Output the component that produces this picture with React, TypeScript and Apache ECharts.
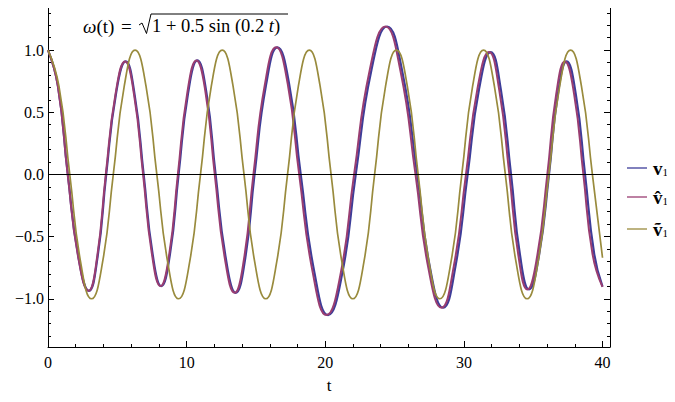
import React, { useEffect, useRef } from 'react';
import * as echarts from 'echarts';

const X_MIN = 0;
const X_MAX = 40.54;
const Y_MIN = -1.388;
const Y_MAX = 1.395;
const X_INTERVAL = 10;
const yMajorTicks = [-1, -0.5, 0, 0.5, 1];
const yMinorTicks = [-1.3, -1.2, -1.1, -0.9, -0.8, -0.7, -0.6, -0.4, -0.3, -0.2, -0.1, 0.1, 0.2, 0.3, 0.4, 0.6, 0.7, 0.8, 0.9, 1.1, 1.2, 1.3];

const seriesNames = ['v\u2081', 'v\u0302\u2081', '\u1E7D\u2081'];
const legendMain = ['v', 'v\u0302', '\u1E7D'];
const seriesColors = ['#3d3d99', '#993d71', '#998b3d'];

const v1: [number, number][] = [
  [0, 1.0], [0.72, 0.71], [1.43, 0], [2.19, -0.66], [2.95, -0.936], [3.58, -0.66], [4.2, 0],
  [4.9, 0.645], [5.6, 0.909], [6.25, 0.64], [6.9, 0], [7.54, -0.635], [8.17, -0.898], [8.8, -0.64],
  [9.42, 0], [10.1, 0.65], [10.77, 0.917], [11.43, 0.655], [12.09, 0], [12.82, -0.67], [13.54, -0.952],
  [14.22, -0.68], [14.9, 0], [15.73, 0.72], [16.55, 1.022], [17.39, 0.73], [18.23, 0], [19.22, -0.79],
  [20.2, -1.131], [21.2, -0.81], [22.2, 0], [23.33, 0.84], [24.46, 1.19], [25.55, 0.83], [26.63, 0],
  [27.57, -0.76], [28.5, -1.072], [29.39, -0.74], [30.27, 0], [31.1, 0.69], [31.93, 0.984], [32.67, 0.68],
  [33.4, 0], [34.05, -0.65], [34.7, -0.925], [35.42, -0.65], [36.14, 0], [36.78, 0.645], [37.41, 0.909],
  [38.08, 0.64], [38.74, 0], [39.4, -0.64], [40, -0.903],
];

const v1Hat: [number, number][] = [
  [0, 1.0], [0.71, 0.71], [1.42, 0], [2.17, -0.66], [2.93, -0.936], [3.55, -0.66], [4.17, 0],
  [4.87, 0.645], [5.56, 0.909], [6.21, 0.64], [6.86, 0], [7.49, -0.635], [8.12, -0.898], [8.75, -0.64],
  [9.37, 0], [10.04, 0.65], [10.71, 0.917], [11.37, 0.655], [12.03, 0], [12.75, -0.67], [13.47, -0.952],
  [14.14, -0.68], [14.82, 0], [15.64, 0.72], [16.46, 1.022], [17.29, 0.73], [18.12, 0], [19.1, -0.79],
  [20.09, -1.131], [21.09, -0.81], [22.08, 0], [23.21, 0.84], [24.34, 1.19], [25.43, 0.83], [26.51, 0],
  [27.45, -0.76], [28.38, -1.072], [29.27, -0.74], [30.15, 0], [30.98, 0.69], [31.81, 0.984], [32.55, 0.68],
  [33.28, 0], [33.93, -0.65], [34.58, -0.925], [35.3, -0.65], [36.02, 0], [36.66, 0.645], [37.29, 0.909],
  [37.96, 0.64], [38.62, 0], [39.28, -0.64], [40, -0.905],
];

const v1Tilde: [number, number][] = [
  [0, 1], [0.79, 0.71], [1.57, 0], [2.36, -0.71], [3.14, -1], [3.93, -0.71], [4.71, 0], [5.5, 0.71],
  [6.28, 1], [7.07, 0.71], [7.85, 0], [8.64, -0.71], [9.42, -1], [10.21, -0.71], [11.0, 0], [11.78, 0.71],
  [12.57, 1], [13.35, 0.71], [14.14, 0], [14.92, -0.71], [15.71, -1], [16.49, -0.71], [17.28, 0], [18.06, 0.71],
  [18.85, 1], [19.63, 0.71], [20.42, 0], [21.21, -0.71], [21.99, -1], [22.78, -0.71], [23.56, 0], [24.35, 0.71],
  [25.13, 1], [25.92, 0.71], [26.7, 0], [27.49, -0.71], [28.27, -1], [29.06, -0.71], [29.85, 0], [30.63, 0.71],
  [31.42, 1], [32.2, 0.71], [32.99, 0], [33.77, -0.71], [34.56, -1], [35.34, -0.71], [36.13, 0], [36.91, 0.71],
  [37.7, 1], [38.48, 0.71], [39.27, 0], [40, -0.67],
];

const SERIF = 'Liberation Serif';

function fmtY(v: number): string {
  const s = Math.abs(v).toFixed(1);
  return v < 0 ? '\u2212' + s : s;
}

export default function App() {
  const ref = useRef<HTMLDivElement>(null);
  useEffect(() => {
    if (!ref.current) return;
    const chart = echarts.init(ref.current, undefined, { renderer: 'svg' });
    const baseX = {
      type: 'value', min: X_MIN, max: X_MAX, interval: X_INTERVAL,
      splitLine: { show: false },
      axisLine: { show: true, onZero: false, lineStyle: { color: '#000', width: 1 } },
      axisTick: { show: true, inside: true, length: 6, lineStyle: { color: '#000' } },
      minorTick: { show: true, splitNumber: 5, length: 3, lineStyle: { color: '#000' } },
    };
    const baseY = {
      type: 'value', min: Y_MIN, max: Y_MAX,
      splitLine: { show: false },
    };
    const data = [v1, v1Hat, v1Tilde];
    const widths = [2.2, 2, 1.7];

    // legend drawn as graphic rows
    const rowY = [168, 197, 229];
    const legendItems: any[] = [];
    seriesNames.forEach((name, i) => {
      const y = rowY[i];
      legendItems.push({
        type: 'line', shape: { x1: 627, y1: y, x2: 647, y2: y },
        style: { stroke: seriesColors[i], lineWidth: 2, opacity: 0.65 },
      });
      legendItems.push({
        type: 'text', x: 653, y: y,
        style: { text: legendMain[i], fontFamily: SERIF, fontSize: 19, fontWeight: 'bold', fill: '#000', verticalAlign: 'middle', align: 'left' },
      });
      legendItems.push({
        type: 'text', x: 662.5, y: y + 4,
        style: { text: '1', fontFamily: SERIF, fontSize: 11, fill: '#000', verticalAlign: 'middle', align: 'left' },
      });
    });

    chart.setOption({
      animation: false,
      backgroundColor: '#fff',
      textStyle: { fontFamily: SERIF },
      grid: { left: 48, right: 65, top: 1, bottom: 55, containLabel: false },
      xAxis: [
        {
          ...baseX, position: 'bottom',
          axisLabel: { show: true, color: '#000', fontFamily: SERIF, fontSize: 16, margin: 7 },
          name: 't', nameLocation: 'middle', nameGap: 30,
          nameTextStyle: { color: '#000', fontFamily: SERIF, fontSize: 17 },
        },
        { ...baseX, position: 'top', axisLabel: { show: false } },
      ],
      yAxis: [
        {
          ...baseY, position: 'left',
          axisLine: { show: true, onZero: false, lineStyle: { color: '#000', width: 1 } },
          axisTick: { show: true, inside: true, length: 6, customValues: yMajorTicks, lineStyle: { color: '#000' } },
          axisLabel: { show: true, customValues: yMajorTicks, formatter: fmtY, color: '#000', fontFamily: SERIF, fontSize: 16, margin: 4 },
        },
        {
          ...baseY, position: 'left',
          axisLine: { show: false, onZero: false },
          axisTick: { show: true, inside: true, length: 3, customValues: yMinorTicks, lineStyle: { color: '#000' } },
          axisLabel: { show: false },
        },
        {
          ...baseY, position: 'right',
          axisLine: { show: true, onZero: false, lineStyle: { color: '#000', width: 1 } },
          axisTick: { show: true, inside: true, length: 6, customValues: yMajorTicks, lineStyle: { color: '#000' } },
          axisLabel: { show: false },
        },
        {
          ...baseY, position: 'right',
          axisLine: { show: false, onZero: false },
          axisTick: { show: true, inside: true, length: 3, customValues: yMinorTicks, lineStyle: { color: '#000' } },
          axisLabel: { show: false },
        },
      ],
      graphic: [
        {
          type: 'text', x: 83, y: 26,
          style: {
            text: '{i|\u03C9}(t)', fontFamily: SERIF, fontSize: 19, fill: '#000',
            verticalAlign: 'middle', align: 'left',
            rich: { i: { fontFamily: SERIF, fontSize: 19, fontStyle: 'italic' } },
          },
        },
        {
          type: 'text', x: 121, y: 26,
          style: { text: '=', fontFamily: SERIF, fontSize: 19, fill: '#000', verticalAlign: 'middle', align: 'left' },
        },
        {
          type: 'polyline',
          shape: { points: [[139, 25], [142, 23], [146.5, 33.5], [151, 14], [288, 14]] },
          style: { stroke: '#000', lineWidth: 1, fill: null },
        },
        {
          type: 'text', x: 152, y: 26,
          style: {
            text: '1 + 0.5 sin (0.2 {i|t})', fontFamily: SERIF, fontSize: 18.5, fill: '#000',
            verticalAlign: 'middle', align: 'left',
            rich: { i: { fontFamily: SERIF, fontSize: 18.5, fontStyle: 'italic' } },
          },
        },
        ...legendItems,
      ],
      series: seriesNames.map((name, i) => ({
        name, type: 'line', data: data[i], smooth: true, symbol: 'none',
        xAxisIndex: 0, yAxisIndex: 0,
        lineStyle: { color: seriesColors[i], width: widths[i] },
        itemStyle: { color: seriesColors[i] },
        z: 2 + i,
        markLine: i === 0 ? {
          silent: true, symbol: ['none', 'none'], label: { show: false },
          lineStyle: { color: '#000', width: 1, type: 'solid' },
          data: [{ yAxis: 0 }],
        } : undefined,
      })),
    });
    return () => chart.dispose();
  }, []);
  return <div ref={ref} style={{ width: 675, height: 402, margin: -8 }} />;
}
